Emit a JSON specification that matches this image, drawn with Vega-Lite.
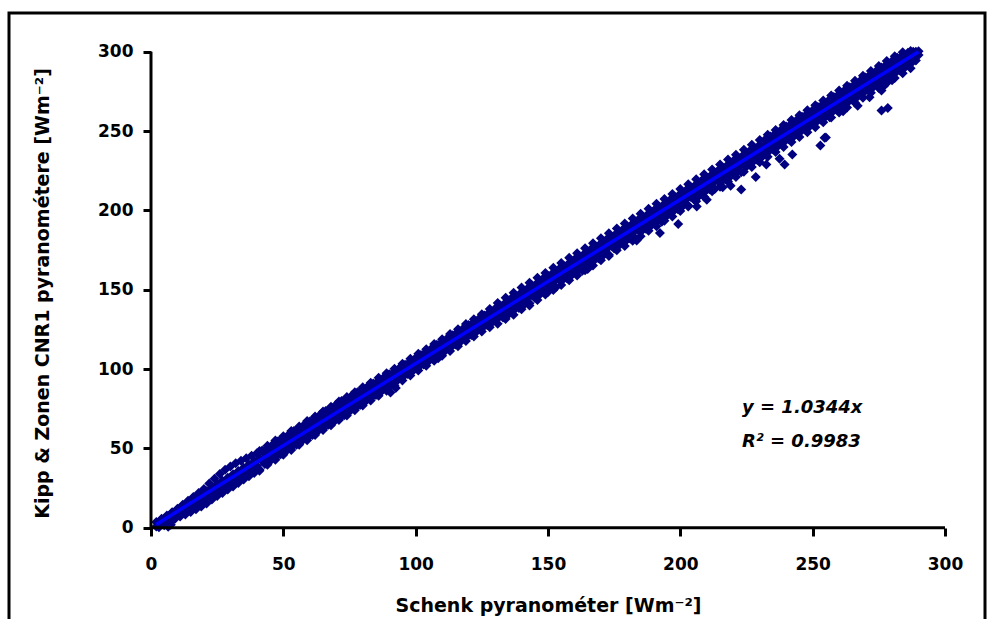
{
"$schema": "https://vega.github.io/schema/vega-lite/v6.json",
"width": 976,
"height": 627,
"autosize": {"type": "none"},
"padding": {"left": 9, "top": 13, "right": 4, "bottom": 0},
"background": "white",
"config": {"view": {"stroke": "#000000", "strokeWidth": 3}},
"datasets": {
"pts": [
{"x":2,"y":3.5},{"x":3,"y":3.6},{"x":2,"y":0.8},{"x":3,"y":0.3},
{"x":4,"y":5.6},{"x":5,"y":5.8},{"x":4,"y":2.7},{"x":5,"y":1.5},
{"x":6,"y":7.6},{"x":7,"y":7.8},{"x":6,"y":4.5},{"x":7,"y":3.2},
{"x":8,"y":9.8},{"x":9,"y":9.9},{"x":8,"y":6.6},{"x":9,"y":5.4},
{"x":10,"y":12.0},{"x":11,"y":12.2},{"x":10,"y":8.5},{"x":11,"y":7.0},
{"x":6.5,"y":0.6},{"x":7.5,"y":1.8},
{"x":12,"y":14.4},{"x":13,"y":14.5},{"x":12,"y":9.9},{"x":13,"y":8.3},
{"x":14,"y":16.9},{"x":15,"y":16.6},{"x":14,"y":11.9},{"x":15,"y":9.9},
{"x":16,"y":19.3},{"x":17,"y":18.7},{"x":16,"y":13.9},{"x":17,"y":11.6},
{"x":18,"y":21.8},{"x":19,"y":20.8},{"x":18,"y":15.8},{"x":19,"y":13.3},
{"x":20,"y":24.3},{"x":21,"y":22.9},{"x":20,"y":17.9},{"x":21,"y":15.2},
{"x":22,"y":27.8},{"x":23,"y":25.3},{"x":22,"y":20.2},{"x":23,"y":17.8},
{"x":24,"y":30.8},{"x":25,"y":27.4},{"x":24,"y":22.3},{"x":25,"y":19.9},
{"x":26,"y":33.9},{"x":27,"y":29.5},{"x":26,"y":24.4},{"x":27,"y":21.9},
{"x":28,"y":36.5},{"x":29,"y":31.5},{"x":28,"y":26.4},{"x":29,"y":24.1},
{"x":30,"y":38.5},{"x":31,"y":33.6},{"x":30,"y":28.5},{"x":31,"y":26.0},
{"x":32,"y":40.6},{"x":33,"y":35.7},{"x":32,"y":30.6},{"x":33,"y":28.2},
{"x":34,"y":42.2},{"x":35,"y":37.7},{"x":34,"y":32.7},{"x":35,"y":30.3},
{"x":36,"y":43.7},{"x":37,"y":39.8},{"x":36,"y":34.7},{"x":37,"y":32.4},
{"x":38,"y":45.3},{"x":39,"y":41.8},{"x":38,"y":36.8},{"x":39,"y":34.5},
{"x":40,"y":46.9},{"x":41,"y":43.9},{"x":40,"y":38.9},{"x":41,"y":36.6},
{"x":42,"y":48.6},{"x":43,"y":46.6},{"x":42,"y":41.8},{"x":43,"y":40.1},
{"x":44,"y":50.3},{"x":45,"y":48.4},{"x":44,"y":43.9},{"x":45,"y":42.0},
{"x":46,"y":52.4},{"x":47,"y":50.8},{"x":46,"y":46.2},{"x":47,"y":44.0},
{"x":48,"y":54.5},{"x":49,"y":52.6},{"x":48,"y":48.0},{"x":49,"y":46.3},
{"x":50,"y":56.6},{"x":51,"y":54.9},{"x":50,"y":50.3},{"x":51,"y":48.1},
{"x":52,"y":58.5},{"x":53,"y":56.6},{"x":52,"y":52.2},{"x":53,"y":50.5},
{"x":54,"y":60.9},{"x":55,"y":58.9},{"x":54,"y":54.2},{"x":55,"y":52.2},
{"x":56,"y":62.8},{"x":57,"y":61.2},{"x":56,"y":56.5},{"x":57,"y":54.6},
{"x":58,"y":65.1},{"x":59,"y":63.0},{"x":58,"y":58.3},{"x":59,"y":56.4},
{"x":60,"y":67.0},{"x":61,"y":65.3},{"x":60,"y":60.6},{"x":61,"y":58.4},
{"x":62,"y":69.3},{"x":63,"y":67.0},{"x":62,"y":62.4},{"x":63,"y":60.8},
{"x":64,"y":71.4},{"x":65,"y":69.5},{"x":64,"y":64.7},{"x":65,"y":62.5},
{"x":66,"y":73.5},{"x":67,"y":71.2},{"x":66,"y":66.6},{"x":67,"y":64.9},
{"x":68,"y":75.6},{"x":69,"y":73.6},{"x":68,"y":68.9},{"x":69,"y":66.6},
{"x":70,"y":77.7},{"x":71,"y":75.5},{"x":70,"y":70.7},{"x":71,"y":68.8},
{"x":72,"y":79.8},{"x":73,"y":77.6},{"x":72,"y":73.0},{"x":73,"y":70.9},
{"x":74,"y":81.6},{"x":75,"y":79.8},{"x":74,"y":75.0},{"x":75,"y":73.2},
{"x":76,"y":83.5},{"x":77,"y":81.6},{"x":76,"y":77.1},{"x":77,"y":75.3},
{"x":78,"y":85.3},{"x":79,"y":83.7},{"x":78,"y":79.1},{"x":79,"y":77.4},
{"x":80,"y":87.4},{"x":81,"y":85.6},{"x":80,"y":81.2},{"x":81,"y":79.5},
{"x":82,"y":89.1},{"x":83,"y":87.7},{"x":82,"y":83.3},{"x":83,"y":81.5},
{"x":84,"y":90.9},{"x":85,"y":89.8},{"x":84,"y":85.4},{"x":85,"y":83.6},
{"x":86,"y":92.8},{"x":87,"y":91.7},{"x":86,"y":87.4},{"x":87,"y":85.8},
{"x":88,"y":94.6},{"x":89,"y":93.9},{"x":88,"y":89.5},{"x":89,"y":87.8},
{"x":90,"y":96.7},{"x":91,"y":95.9},{"x":90,"y":91.6},{"x":91,"y":90.0},
{"x":92,"y":98.6},{"x":93,"y":97.8},{"x":92,"y":93.7},{"x":93,"y":92.6},
{"x":94,"y":100.8},{"x":95,"y":99.7},{"x":94,"y":95.8},{"x":95,"y":94.7},
{"x":96,"y":102.7},{"x":97,"y":101.9},{"x":96,"y":97.8},{"x":97,"y":96.8},
{"x":98,"y":104.9},{"x":99,"y":103.8},{"x":98,"y":99.8},{"x":99,"y":98.9},
{"x":100,"y":106.9},{"x":101,"y":106.0},{"x":100,"y":101.9},{"x":101,"y":100.9},
{"x":102,"y":108.9},{"x":103,"y":108.0},{"x":102,"y":104.0},{"x":103,"y":102.9},
{"x":104,"y":111.1},{"x":105,"y":110.1},{"x":104,"y":106.1},{"x":105,"y":105.0},
{"x":106,"y":113.0},{"x":107,"y":112.2},{"x":106,"y":108.2},{"x":107,"y":107.1},
{"x":108,"y":115.3},{"x":109,"y":114.2},{"x":108,"y":110.1},{"x":109,"y":109.3},
{"x":110,"y":117.2},{"x":111,"y":116.4},{"x":110,"y":112.3},{"x":111,"y":111.2},
{"x":112,"y":119.4},{"x":113,"y":118.3},{"x":112,"y":114.4},{"x":113,"y":113.3},
{"x":114,"y":121.3},{"x":115,"y":120.5},{"x":114,"y":116.4},{"x":115,"y":115.5},
{"x":116,"y":123.6},{"x":117,"y":122.4},{"x":116,"y":118.5},{"x":117,"y":117.4},
{"x":118,"y":125.5},{"x":119,"y":124.7},{"x":118,"y":120.5},{"x":119,"y":119.6},
{"x":120,"y":127.7},{"x":121,"y":126.6},{"x":120,"y":122.6},{"x":121,"y":121.5},
{"x":122,"y":129.6},{"x":123,"y":128.8},{"x":122,"y":124.7},{"x":123,"y":123.6},
{"x":124,"y":131.9},{"x":125,"y":130.8},{"x":124,"y":126.7},{"x":125,"y":125.6},
{"x":126,"y":133.8},{"x":127,"y":132.9},{"x":126,"y":128.8},{"x":127,"y":127.7},
{"x":128,"y":136.0},{"x":129,"y":134.9},{"x":128,"y":130.9},{"x":129,"y":129.6},
{"x":130,"y":138.0},{"x":131,"y":137.1},{"x":130,"y":132.9},{"x":131,"y":131.8},
{"x":132,"y":140.1},{"x":133,"y":138.6},{"x":132,"y":134.0},{"x":133,"y":132.5},
{"x":134,"y":142.0},{"x":135,"y":140.7},{"x":134,"y":136.2},{"x":135,"y":134.3},
{"x":136,"y":144.3},{"x":137,"y":142.6},{"x":136,"y":138.1},{"x":137,"y":136.9},
{"x":138,"y":146.2},{"x":139,"y":144.9},{"x":138,"y":140.3},{"x":139,"y":138.5},
{"x":140,"y":148.4},{"x":141,"y":146.8},{"x":140,"y":142.2},{"x":141,"y":140.6},
{"x":142,"y":150.3},{"x":143,"y":149.0},{"x":142,"y":144.5},{"x":143,"y":141.4},
{"x":144,"y":152.6},{"x":145,"y":150.9},{"x":144,"y":146.4},{"x":145,"y":145.0},
{"x":146,"y":154.4},{"x":147,"y":153.1},{"x":146,"y":148.6},{"x":147,"y":147.1},
{"x":148,"y":156.7},{"x":149,"y":155.0},{"x":148,"y":150.5},{"x":149,"y":148.9},
{"x":150,"y":158.6},{"x":151,"y":157.3},{"x":150,"y":152.7},{"x":151,"y":150.9},
{"x":152,"y":160.8},{"x":153,"y":159.2},{"x":152,"y":154.6},{"x":153,"y":151.5},
{"x":154,"y":162.7},{"x":155,"y":161.4},{"x":154,"y":156.8},{"x":155,"y":155.3},
{"x":156,"y":165.0},{"x":157,"y":163.3},{"x":156,"y":158.8},{"x":157,"y":157.4},
{"x":158,"y":166.9},{"x":159,"y":165.5},{"x":158,"y":160.9},{"x":159,"y":159.3},
{"x":160,"y":169.1},{"x":161,"y":167.5},{"x":160,"y":163.0},{"x":161,"y":161.4},
{"x":162,"y":171.0},{"x":163,"y":169.7},{"x":162,"y":165.0},{"x":163,"y":161.9},
{"x":164,"y":173.2},{"x":165,"y":171.6},{"x":164,"y":167.1},{"x":165,"y":165.7},
{"x":166,"y":175.1},{"x":167,"y":173.8},{"x":166,"y":169.2},{"x":167,"y":167.7},
{"x":168,"y":177.4},{"x":169,"y":175.7},{"x":168,"y":171.2},{"x":169,"y":169.8},
{"x":170,"y":179.3},{"x":171,"y":177.9},{"x":170,"y":173.4},{"x":171,"y":171.8},
{"x":172,"y":181.5},{"x":173,"y":179.8},{"x":172,"y":175.3},{"x":173,"y":172.0},
{"x":174,"y":183.4},{"x":175,"y":182.1},{"x":174,"y":177.5},{"x":175,"y":176.0},
{"x":176,"y":185.7},{"x":177,"y":184.0},{"x":176,"y":179.5},{"x":177,"y":178.1},
{"x":178,"y":187.5},{"x":179,"y":186.2},{"x":178,"y":181.7},{"x":179,"y":180.1},
{"x":180,"y":189.8},{"x":181,"y":188.1},{"x":180,"y":183.6},{"x":181,"y":182.3},
{"x":182,"y":191.7},{"x":183,"y":190.3},{"x":182,"y":185.8},{"x":183,"y":182.4},
{"x":184,"y":193.9},{"x":185,"y":192.3},{"x":184,"y":187.8},{"x":185,"y":186.4},
{"x":186,"y":195.8},{"x":187,"y":194.5},{"x":186,"y":189.9},{"x":187,"y":188.4},
{"x":188,"y":198.0},{"x":189,"y":196.4},{"x":188,"y":192.0},{"x":189,"y":190.5},
{"x":190,"y":199.9},{"x":191,"y":198.6},{"x":190,"y":194.0},{"x":191,"y":192.6},
{"x":192,"y":202.2},{"x":193,"y":200.5},{"x":192,"y":196.1},{"x":193,"y":192.8},
{"x":194,"y":204.1},{"x":195,"y":202.8},{"x":194,"y":198.2},{"x":195,"y":196.7},
{"x":196,"y":206.3},{"x":197,"y":204.7},{"x":196,"y":200.2},{"x":197,"y":198.8},
{"x":198,"y":208.2},{"x":199,"y":206.9},{"x":198,"y":202.3},{"x":199,"y":200.8},
{"x":200,"y":210.5},{"x":201,"y":208.8},{"x":200,"y":204.4},{"x":201,"y":202.9},
{"x":202,"y":212.3},{"x":203,"y":211.0},{"x":202,"y":206.5},{"x":203,"y":203.1},
{"x":204,"y":214.6},{"x":205,"y":212.9},{"x":204,"y":208.5},{"x":205,"y":207.0},
{"x":206,"y":216.5},{"x":207,"y":215.1},{"x":206,"y":210.6},{"x":207,"y":209.1},
{"x":208,"y":218.7},{"x":209,"y":217.1},{"x":208,"y":212.6},{"x":209,"y":211.2},
{"x":210,"y":220.6},{"x":211,"y":219.3},{"x":210,"y":214.7},{"x":211,"y":213.3},
{"x":212,"y":222.8},{"x":213,"y":221.2},{"x":212,"y":216.8},{"x":213,"y":213.5},
{"x":214,"y":224.7},{"x":215,"y":223.4},{"x":214,"y":218.9},{"x":215,"y":217.4},
{"x":216,"y":227.0},{"x":217,"y":225.4},{"x":216,"y":220.9},{"x":217,"y":219.4},
{"x":218,"y":228.9},{"x":219,"y":227.5},{"x":218,"y":223.0},{"x":219,"y":221.5},
{"x":220,"y":231.1},{"x":221,"y":229.5},{"x":220,"y":225.1},{"x":221,"y":223.6},
{"x":222,"y":233.0},{"x":223,"y":231.7},{"x":222,"y":227.1},{"x":223,"y":224.0},
{"x":224,"y":235.2},{"x":225,"y":233.6},{"x":224,"y":229.2},{"x":225,"y":227.7},
{"x":226,"y":237.1},{"x":227,"y":235.8},{"x":226,"y":231.3},{"x":227,"y":229.8},
{"x":228,"y":239.3},{"x":229,"y":237.9},{"x":228,"y":233.3},{"x":229,"y":231.9},
{"x":230,"y":241.4},{"x":231,"y":239.9},{"x":230,"y":235.4},{"x":231,"y":233.9},
{"x":232,"y":244.5},{"x":233,"y":242.5},{"x":232,"y":238.0},{"x":233,"y":236.5},
{"x":234,"y":246.5},{"x":235,"y":244.6},{"x":234,"y":240.1},{"x":235,"y":238.6},
{"x":236,"y":248.6},{"x":237,"y":246.7},{"x":236,"y":242.1},{"x":237,"y":240.7},
{"x":238,"y":250.7},{"x":239,"y":248.7},{"x":238,"y":244.2},{"x":239,"y":242.7},
{"x":240,"y":252.8},{"x":241,"y":250.8},{"x":240,"y":246.3},{"x":241,"y":244.8},
{"x":242,"y":254.8},{"x":243,"y":252.9},{"x":242,"y":248.3},{"x":243,"y":246.9},
{"x":244,"y":256.9},{"x":245,"y":254.9},{"x":244,"y":250.4},{"x":245,"y":248.9},
{"x":246,"y":259.0},{"x":247,"y":257.0},{"x":246,"y":252.5},{"x":247,"y":251.0},
{"x":248,"y":261.0},{"x":249,"y":259.1},{"x":248,"y":254.5},{"x":249,"y":253.1},
{"x":250,"y":263.1},{"x":251,"y":261.1},{"x":250,"y":256.6},{"x":251,"y":255.1},
{"x":252,"y":265.2},{"x":253,"y":263.2},{"x":252,"y":258.7},{"x":253,"y":257.2},
{"x":254,"y":267.2},{"x":255,"y":265.3},{"x":254,"y":260.7},{"x":255,"y":259.3},
{"x":256,"y":269.3},{"x":257,"y":267.3},{"x":256,"y":262.8},{"x":257,"y":261.3},
{"x":258,"y":271.4},{"x":259,"y":269.4},{"x":258,"y":264.9},{"x":259,"y":263.4},
{"x":260,"y":273.4},{"x":261,"y":271.5},{"x":260,"y":266.9},{"x":261,"y":265.5},
{"x":262,"y":275.5},{"x":263,"y":273.6},{"x":262,"y":269.0},{"x":263,"y":267.6},
{"x":264,"y":277.6},{"x":265,"y":275.6},{"x":264,"y":271.1},{"x":265,"y":269.6},
{"x":266,"y":279.6},{"x":267,"y":277.7},{"x":266,"y":273.2},{"x":267,"y":271.7},
{"x":268,"y":281.7},{"x":269,"y":279.8},{"x":268,"y":275.2},{"x":269,"y":273.8},
{"x":270,"y":283.8},{"x":271,"y":281.8},{"x":270,"y":277.3},{"x":271,"y":275.8},
{"x":272,"y":285.9},{"x":273,"y":283.9},{"x":272,"y":279.4},{"x":273,"y":277.9},
{"x":274,"y":287.9},{"x":275,"y":286.0},{"x":274,"y":281.4},{"x":275,"y":280.0},
{"x":276,"y":290.0},{"x":277,"y":288.0},{"x":276,"y":283.5},{"x":277,"y":282.0},
{"x":278,"y":292.1},{"x":279,"y":290.1},{"x":278,"y":285.6},{"x":279,"y":284.1},
{"x":280,"y":294.1},{"x":281,"y":292.2},{"x":280,"y":287.6},{"x":281,"y":286.2},
{"x":282,"y":296.2},{"x":283,"y":294.2},{"x":282,"y":289.7},{"x":283,"y":288.2},
{"x":284,"y":297.8},{"x":285,"y":296.3},{"x":284,"y":291.8},{"x":285,"y":290.3},
{"x":286,"y":299.3},{"x":287,"y":298.4},{"x":286,"y":293.8},{"x":287,"y":292.4},
{"x":288,"y":300.0},{"x":289,"y":299.9},{"x":288,"y":295.9},{"x":289,"y":294.4},
{"x":290,"y":300.3},{"x":290,"y":297.9},
{"x":41,"y":48.4},{"x":41,"y":35.9},{"x":44,"y":51.6},{"x":44,"y":39.6},{"x":47,"y":54.9},{"x":47,"y":42.8},
{"x":50,"y":57.6},{"x":50,"y":45.9},{"x":53,"y":60.9},{"x":53,"y":48.9},{"x":56,"y":63.8},{"x":56,"y":52.2},
{"x":59,"y":67.2},{"x":59,"y":55.1},{"x":62,"y":70.1},{"x":62,"y":58.4},{"x":65,"y":73.3},{"x":65,"y":61.5},
{"x":68,"y":76.2},{"x":68,"y":64.6},{"x":71,"y":79.5},{"x":71,"y":67.8},{"x":74,"y":82.3},{"x":74,"y":70.7},
{"x":77,"y":85.4},{"x":77,"y":74.0},{"x":80,"y":88.5},{"x":80,"y":77.0},{"x":83,"y":91.4},{"x":83,"y":80.2},
{"x":86,"y":94.5},{"x":86,"y":83.2},{"x":89,"y":97.4},{"x":89,"y":86.3},{"x":92,"y":100.2},{"x":92,"y":89.6},
{"x":95,"y":103.3},{"x":95,"y":92.8},{"x":98,"y":106.4},{"x":98,"y":95.9},{"x":101,"y":109.6},{"x":101,"y":99.0},
{"x":104,"y":112.5},{"x":104,"y":102.1},{"x":107,"y":115.8},{"x":107,"y":105.2},{"x":110,"y":118.8},{"x":110,"y":108.3},
{"x":113,"y":122.0},{"x":113,"y":111.4},{"x":116,"y":125.1},{"x":116,"y":114.4},{"x":119,"y":128.3},{"x":119,"y":117.6},
{"x":122,"y":131.4},{"x":122,"y":120.5},{"x":125,"y":134.6},{"x":125,"y":123.6},{"x":128,"y":137.8},{"x":128,"y":126.4},
{"x":131,"y":141.6},{"x":131,"y":128.5},{"x":134,"y":145.0},{"x":134,"y":131.6},{"x":137,"y":148.1},{"x":137,"y":134.2},
{"x":140,"y":151.4},{"x":140,"y":137.6},{"x":143,"y":154.3},{"x":143,"y":140.1},{"x":146,"y":157.6},{"x":146,"y":143.5},
{"x":149,"y":160.5},{"x":149,"y":146.9},{"x":152,"y":163.9},{"x":152,"y":149.8},{"x":155,"y":166.8},{"x":155,"y":153.0},
{"x":158,"y":170.1},{"x":158,"y":156.0},{"x":161,"y":173.0},{"x":161,"y":158.9},{"x":164,"y":176.2},{"x":164,"y":162.3},
{"x":167,"y":179.3},{"x":167,"y":165.2},{"x":170,"y":182.4},{"x":170,"y":168.6},{"x":173,"y":185.5},{"x":173,"y":171.3},
{"x":176,"y":188.6},{"x":176,"y":174.8},{"x":179,"y":191.7},{"x":179,"y":177.5},{"x":182,"y":194.8},{"x":182,"y":180.9},
{"x":185,"y":197.9},{"x":185,"y":183.7},{"x":188,"y":201.0},{"x":188,"y":187.2},{"x":191,"y":204.1},{"x":191,"y":190.0},
{"x":194,"y":207.2},{"x":194,"y":193.4},{"x":197,"y":210.3},{"x":197,"y":196.2},{"x":200,"y":213.4},{"x":200,"y":199.6},
{"x":203,"y":216.5},{"x":203,"y":202.4},{"x":206,"y":219.6},{"x":206,"y":205.8},{"x":209,"y":222.7},{"x":209,"y":208.6},
{"x":212,"y":225.8},{"x":212,"y":212.0},{"x":215,"y":228.9},{"x":215,"y":214.9},{"x":218,"y":232.0},{"x":218,"y":218.2},
{"x":221,"y":235.1},{"x":221,"y":221.1},{"x":224,"y":238.2},{"x":224,"y":224.3},{"x":227,"y":241.3},{"x":227,"y":227.3},
{"x":230,"y":244.4},{"x":230,"y":230.4},{"x":233,"y":247.6},{"x":233,"y":233.8},{"x":236,"y":250.7},{"x":236,"y":236.8},
{"x":239,"y":253.8},{"x":239,"y":240.0},{"x":242,"y":256.9},{"x":242,"y":243.1},{"x":245,"y":260.0},{"x":245,"y":246.2},
{"x":248,"y":263.1},{"x":248,"y":249.3},{"x":251,"y":266.2},{"x":251,"y":252.4},{"x":254,"y":269.3},{"x":254,"y":255.5},
{"x":257,"y":272.4},{"x":257,"y":258.6},{"x":260,"y":275.5},{"x":260,"y":261.7},{"x":263,"y":278.6},{"x":263,"y":264.8},
{"x":266,"y":281.7},{"x":266,"y":267.9},{"x":269,"y":284.8},{"x":269,"y":271.0},{"x":272,"y":287.9},{"x":272,"y":274.1},
{"x":275,"y":291.0},{"x":275,"y":277.2},{"x":278,"y":294.1},{"x":278,"y":280.3},{"x":281,"y":297.2},{"x":281,"y":283.4},
{"x":284,"y":299.6},{"x":284,"y":286.5},{"x":287,"y":300.4},{"x":287,"y":289.6},
{"x":276,"y":263},{"x":278.4,"y":264.6},{"x":271.5,"y":271.3},{"x":267,"y":266},{"x":261.5,"y":262.5},
{"x":256.4,"y":258.7},{"x":254.5,"y":245.7},{"x":252.9,"y":240.9},{"x":242.3,"y":235.2},{"x":237.5,"y":232.5},
{"x":239.4,"y":228.9},{"x":232.5,"y":228.9},{"x":228.5,"y":221},{"x":223,"y":213.2},{"x":276,"y":275.5},
{"x":277,"y":278.6},{"x":280,"y":282},{"x":199.2,"y":191.4},{"x":192.3,"y":185.7},{"x":206.2,"y":202.5},
{"x":210,"y":206.7},{"x":255,"y":246},{"x":90.5,"y":85.2},{"x":92.5,"y":88},{"x":108.5,"y":106.8},
{"x":150,"y":148.5},{"x":165,"y":163},{"x":183.5,"y":181},{"x":216,"y":214.5},{"x":219,"y":215.5}
],
"axes": [{"x":0,"y":0,"x2":300,"y2":0},{"x":0,"y":0,"x2":0,"y2":300}],
"trend": [{"x":2,"y":2.07},{"x":290,"y":299.98}],
"notes": [{"x":223.3,"y":75.6,"t":"y = 1.0344x"},{"x":223.3,"y":54.2,"t":"R² = 0.9983"}]
},
"layer": [
{
"data": {"name": "pts"},
"mark": {"type": "point", "shape": "diamond", "filled": true, "size": 100, "color": "#000080", "opacity": 1, "strokeWidth": 0},
"encoding": {
"x": {"field": "x", "type": "quantitative",
"scale": {"domain": [-53.65, 315.11], "nice": false, "zero": false},
"axis": {"values": [0,50,100,150,200,250,300], "domain": false, "grid": false, "offset": -112,
"tickSize": 8, "tickWidth": 3, "tickColor": "#000000",
"labelFont": "DejaVu Sans", "labelFontSize": 17, "labelFontWeight": "bold", "labelColor": "#000000",
"labelBaseline": "middle", "labelPadding": 28, "labelFlush": false, "labelOverlap": false,
"title": "Schenk pyranométer [Wm⁻²]", "titleFont": "DejaVu Sans", "titleFontSize": 19, "titleFontWeight": "bold", "titleColor": "#000000",
"titleX": 539, "titleY": 77, "titleBaseline": "middle", "titleAlign": "center"}},
"y": {"field": "y", "type": "quantitative",
"scale": {"domain": [-70.8, 324.4], "nice": false, "zero": false},
"axis": {"values": [0,50,100,150,200,250,300], "domain": false, "grid": false, "offset": -142,
"tickSize": 8, "tickWidth": 3, "tickColor": "#000000",
"labelFont": "DejaVu Sans", "labelFontSize": 17, "labelFontWeight": "bold", "labelColor": "#000000",
"labelPadding": 10, "labelFlush": false, "labelOverlap": false,
"title": "Kipp & Zonen CNR1 pyranométere [Wm⁻²]", "titleFont": "DejaVu Sans", "titleFontSize": 19, "titleFontWeight": "bold", "titleColor": "#000000",
"titleAngle": -90, "titleX": -109, "titleY": 280, "titleBaseline": "middle", "titleAlign": "center"}}
}
},
{
"data": {"name": "trend"},
"mark": {"type": "line", "color": "#0000FF", "strokeWidth": 3.5},
"encoding": {"x": {"field": "x", "type": "quantitative"}, "y": {"field": "y", "type": "quantitative"}}
},
{
"data": {"name": "axes"},
"mark": {"type": "rule", "color": "#000000", "strokeWidth": 3},
"encoding": {"x": {"field": "x", "type": "quantitative"}, "y": {"field": "y", "type": "quantitative"},
"x2": {"field": "x2"}, "y2": {"field": "y2"}}
},
{
"data": {"name": "notes"},
"mark": {"type": "text", "font": "DejaVu Sans", "fontSize": 18, "fontWeight": "bold", "fontStyle": "italic", "align": "left", "baseline": "middle", "color": "#000000"},
"encoding": {"x": {"field": "x", "type": "quantitative"}, "y": {"field": "y", "type": "quantitative"}, "text": {"field": "t"}}
}
]
}
